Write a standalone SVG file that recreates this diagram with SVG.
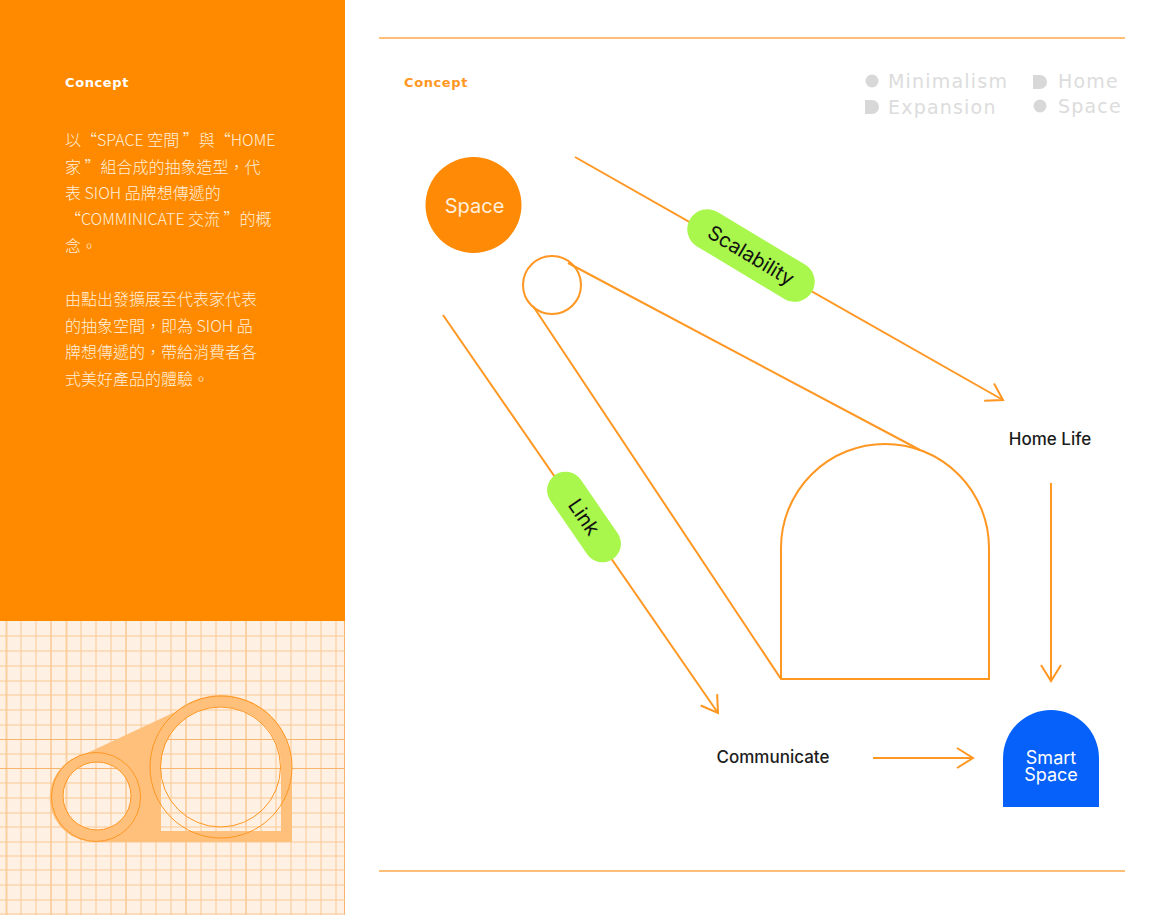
<svg xmlns="http://www.w3.org/2000/svg" width="1160" height="915" viewBox="0 0 1160 915">
<style>
.cjk{font-family:"Noto Sans CJK TC","Liberation Sans",sans-serif;font-size:16px;font-weight:300;fill:#ffefdc}
.lat{font-family:"Inter","Liberation Sans",sans-serif}
.cap{font-family:"DejaVu Sans",sans-serif;font-size:13px;font-weight:700;letter-spacing:.6px}
.leg{font-family:"DejaVu Sans",sans-serif;font-size:19px;fill:#dcdcdc;letter-spacing:1.2px}
.ln{fill:none;stroke:#ff9722;stroke-width:2}
.gm{stroke:#f9c894;stroke-width:1}
.gd{stroke:#f7b46c;stroke-width:1}
.gt{stroke:#fcd09f;stroke-width:2}
.lg{fill:#d8d8d8}
</style>
<defs>
<marker id="arr" markerUnits="userSpaceOnUse" markerWidth="24" markerHeight="24" refX="19" refY="12" orient="auto"><path d="M3,2 L19,12 L3,22" fill="none" stroke="#ff9722" stroke-width="2"/></marker>
</defs>
<rect width="1160" height="915" fill="#fff"/>
<g id="panel">
<rect width="345" height="621" fill="#ff8a00"/>
<rect y="621" width="345" height="294" fill="#fef1e3"/>
<g id="grid">
<path class="gm" d="M21,621V915M36,621V915M81,621V915M96,621V915M111,621V915M141,621V915M156,621V915M171,621V915M201,621V915M216,621V915M231,621V915M261,621V915M276,621V915M291,621V915M306,621V915M321,621V915M336,621V915"/>
<path class="gd" d="M51,621V915M126,621V915M186,621V915M246,621V915M344.500,621V915"/>
<path class="gt" d="M6.500,621V915M66.500,621V915"/>
<path class="gm" d="M0,636H345M0,651H345M0,666H345M0,681H345M0,695H345M0,710H345M0,725H345M0,754H345M0,783H345M0,798H345M0,813H345M0,827H345M0,842H345M0,856H345M0,870H345M0,885H345M0,900H345M0,914H345"/>
<path class="gd" d="M0,739.500H345M0,768.500H345"/>
</g>
<path fill="#ffc07c" fill-rule="evenodd" d="M85,754 L175,712 A71,71 0 0 1 292,767 L292,842 L96,842 A44.500,44.500 0 0 1 85,754 Z M161,767 A60,60 0 1 1 281,767 L281,831 L161,831 Z M131,796 A34,34 0 1 0 63,796 A34,34 0 1 0 131,796 Z"/>
<g fill="none" stroke="#ff9722" stroke-width="1">
<circle cx="221" cy="767" r="71"/><circle cx="220.500" cy="767" r="60"/>
<circle cx="96" cy="797" r="44.500"/><circle cx="97" cy="796" r="34"/>
</g>
<text class="cap" x="65" y="87" fill="#fff">Concept</text>
<g class="cjk">
<text x="65" y="146">以“SPACE 空間 ”與“HOME</text>
<text x="65" y="173">家 ”組合成的抽象造型，代</text>
<text x="65" y="199">表 SIOH 品牌想傳遞的</text>
<text x="65" y="225">“COMMINICATE 交流 ”的概</text>
<text x="65" y="252">念。</text>
<text x="65" y="305">由點出發擴展至代表家代表</text>
<text x="65" y="332">的抽象空間，即為 SIOH 品</text>
<text x="65" y="358">牌想傳遞的，帶給消費者各</text>
<text x="65" y="385">式美好產品的體驗。</text>
</g>
</g>
<g id="frame" stroke="#ffab4d" stroke-width="1.500"><path d="M379,38H1125M379,871H1125"/></g>
<text class="cap" x="404" y="87" fill="#ff9722">Concept</text>
<g id="legend">
<circle class="lg" cx="872" cy="81" r="6.500"/><text class="leg" x="888" y="88">Minimalism</text>
<path class="lg" d="M1033,75h7a7,7 0 0 1 0,14h-7z"/><text class="leg" x="1058" y="88">Home</text>
<path class="lg" d="M865,100h7a7,7 0 0 1 0,14h-7z"/><text class="leg" x="888" y="114">Expansion</text>
<circle class="lg" cx="1040" cy="106" r="6.500"/><text class="leg" x="1058" y="113">Space</text>
</g>
<g id="connectors">
<path class="ln" marker-end="url(#arr)" d="M575,157L1003,400"/>
<path class="ln" marker-end="url(#arr)" d="M443,315L718,713"/>
<path class="ln" marker-end="url(#arr)" d="M1051,483V681"/>
<path class="ln" marker-end="url(#arr)" d="M873,758H973"/>
</g>
<g id="shape">
<circle class="ln" cx="552" cy="285" r="29"/>
<path class="ln" d="M533,306L781,679H989V548A104,104 0 0 0 781,548V679"/>
<path class="ln" d="M568,263L920,450"/>
</g>
<g id="node-space">
<circle cx="473.500" cy="205" r="48" fill="#ff8a06"/>
<text class="lat" x="474.500" y="213" font-size="20" fill="#ffefdc" text-anchor="middle">Space</text>
</g>
<g id="node-scalability" transform="translate(751,255.500) rotate(31)">
<rect x="-71" y="-20" width="142" height="40" rx="20" fill="#a9f64c"/>
<text class="lat" x="0" y="7" font-size="20" fill="#111" text-anchor="middle">Scalability</text>
</g>
<g id="node-link" transform="translate(584,517) rotate(55.500)">
<rect x="-51" y="-18.500" width="102" height="37" rx="18.500" fill="#a9f64c"/>
<text class="lat" x="0" y="7" font-size="20" fill="#111" text-anchor="middle">Link</text>
</g>
<g id="node-home"><text class="lat" x="1050" y="445" font-size="17" font-weight="500" fill="#1c1c1c" text-anchor="middle">Home Life</text></g>
<g id="node-communicate"><text class="lat" x="773" y="763" font-size="17" font-weight="500" fill="#1c1c1c" text-anchor="middle">Communicate</text></g>
<g id="node-smart">
<path d="M1003,807V758A48,48 0 0 1 1099,758V807Z" fill="#0561f9"/>
<text class="lat" x="1051" y="764" font-size="18" fill="#fff" text-anchor="middle">Smart</text>
<text class="lat" x="1051" y="781" font-size="18" fill="#fff" text-anchor="middle">Space</text>
</g>
</svg>
